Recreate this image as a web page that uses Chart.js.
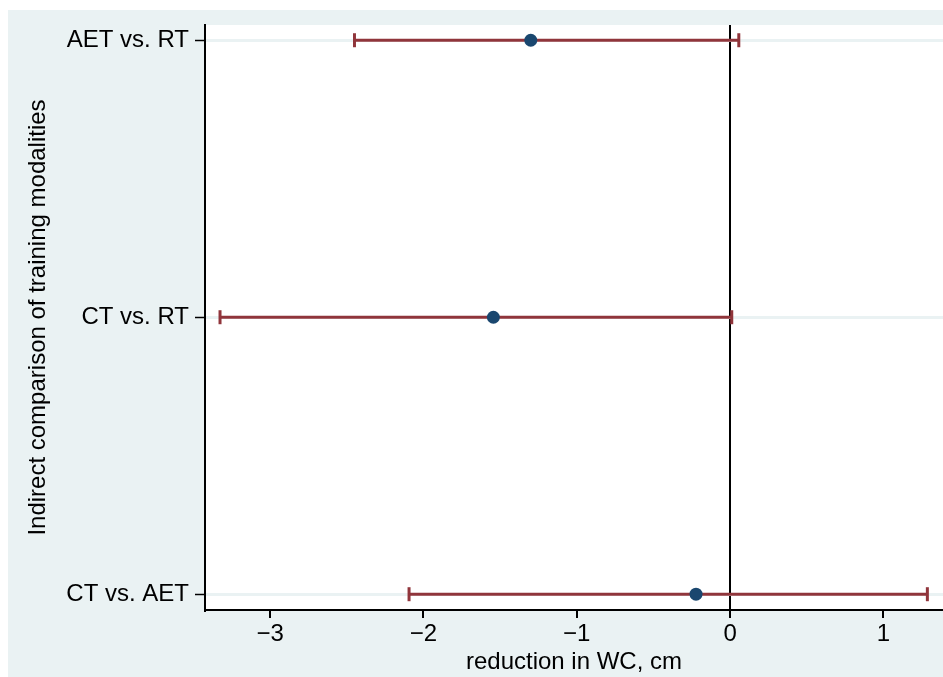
<!DOCTYPE html>
<html>
<head>
<meta charset="utf-8">
<script src="https://cdn.jsdelivr.net/npm/chart.js@4"></script>
<style>
  html, body { margin: 0; padding: 0; background: #fff; }
  #wrap { position: absolute; left: 8px; top: 10px; width: 935px; height: 667px; }
</style>
</head>
<body>
<div id="wrap"><canvas id="myChart" width="935" height="667"></canvas></div>
<script>
// data
const comparisons = ['AET vs. RT', 'CT vs. RT', 'CT vs. AET'];
const estimates = [-1.30, -1.544, -0.222];
const lowerCI = [-2.45, -3.327, -2.094];
const upperCI = [0.057, 0.011, 1.287];
const xTicks = [-3, -2, -1, 0, 1];

const bgColor = '#eaf2f3';
const barColor = '#90353b';
const dotColor = '#1a476f';
const font = { family: '"Liberation Sans", Arial, sans-serif', size: 24 };

// white plot region on the grey graph region
const panelBg = {
  id: 'panelBg',
  beforeDraw(chart) {
    const c = chart.ctx, a = chart.chartArea;
    c.save();
    c.fillStyle = bgColor;
    c.fillRect(0, 0, chart.width, chart.height);
    c.fillStyle = '#fff';
    c.fillRect(a.left, a.top, a.right - a.left, a.bottom - a.top);
    c.restore();
  }
};

// one line dataset per row for the confidence interval, caps as rotated line points
const ciSets = comparisons.map((name, i) => ({
  type: 'line',
  label: name + ' CI',
  data: [{ x: lowerCI[i], y: i }, { x: upperCI[i], y: i }],
  borderColor: barColor,
  borderWidth: 3,
  pointStyle: 'line',
  rotation: 90,
  pointRadius: 7,
  pointBorderWidth: 3,
  pointBorderColor: barColor,
  fill: false,
  clip: false,
  order: 2
}));

const ctx = document.getElementById('myChart').getContext('2d');

const myChart = new Chart(ctx, {
  type: 'scatter',
  data: {
    datasets: [
      {
        label: 'Estimate',
        data: estimates.map((v, i) => ({ x: v, y: i })),
        backgroundColor: dotColor,
        borderWidth: 0,
        pointRadius: 6.5,
        order: 1
      }
    ].concat(ciSets)
  },
  options: {
    responsive: false,
    devicePixelRatio: 1,
    animation: false,
    layout: { autoPadding: false, padding: { top: 15, right: 0, bottom: 0, left: 0 } },
    plugins: {
      legend: { display: false },
      tooltip: { enabled: false }
    },
    scales: {
      x: {
        type: 'linear',
        min: -3.425,
        max: 1.389,
        afterBuildTicks: scale => { scale.ticks = xTicks.map(v => ({ value: v })); },
        afterFit: scale => {
          scale.height = 67;
          scale.paddingLeft = 0;
          scale.paddingRight = 0;
        },
        border: { display: true, color: '#000', width: 2 },
        grid: {
          color: c => (c.tick && c.tick.value === 0) ? '#000' : 'rgba(0,0,0,0)',
          lineWidth: 2,
          tickColor: '#000',
          tickWidth: 2,
          tickLength: 8
        },
        ticks: {
          color: '#000',
          font: font,
          padding: 2,
          maxRotation: 0,
          callback: v => v < 0 ? '\u2212' + Math.abs(v) : String(v)
        },
        title: {
          display: true,
          text: 'reduction in WC, cm',
          color: '#000',
          font: font,
          padding: { top: 0, bottom: 0 }
        }
      },
      y: {
        type: 'linear',
        reverse: true,
        min: -0.055,
        max: 2.057,
        afterBuildTicks: scale => { scale.ticks = comparisons.map((c, i) => ({ value: i })); },
        afterFit: scale => {
          scale.width = 197;
          scale.paddingTop = 0;
          scale.paddingBottom = 0;
        },
        border: { display: true, color: '#000', width: 2 },
        grid: {
          color: bgColor,
          lineWidth: 3,
          tickColor: '#000',
          tickWidth: 1.5,
          tickLength: 10
        },
        ticks: {
          color: '#000',
          font: font,
          padding: 6,
          callback: v => comparisons[v]
        },
        title: {
          display: true,
          text: 'Indirect comparison of training modalities',
          color: '#000',
          font: font,
          padding: { top: 16, bottom: 0 }
        }
      }
    }
  },
  plugins: [panelBg]
});
</script>
</body>
</html>
